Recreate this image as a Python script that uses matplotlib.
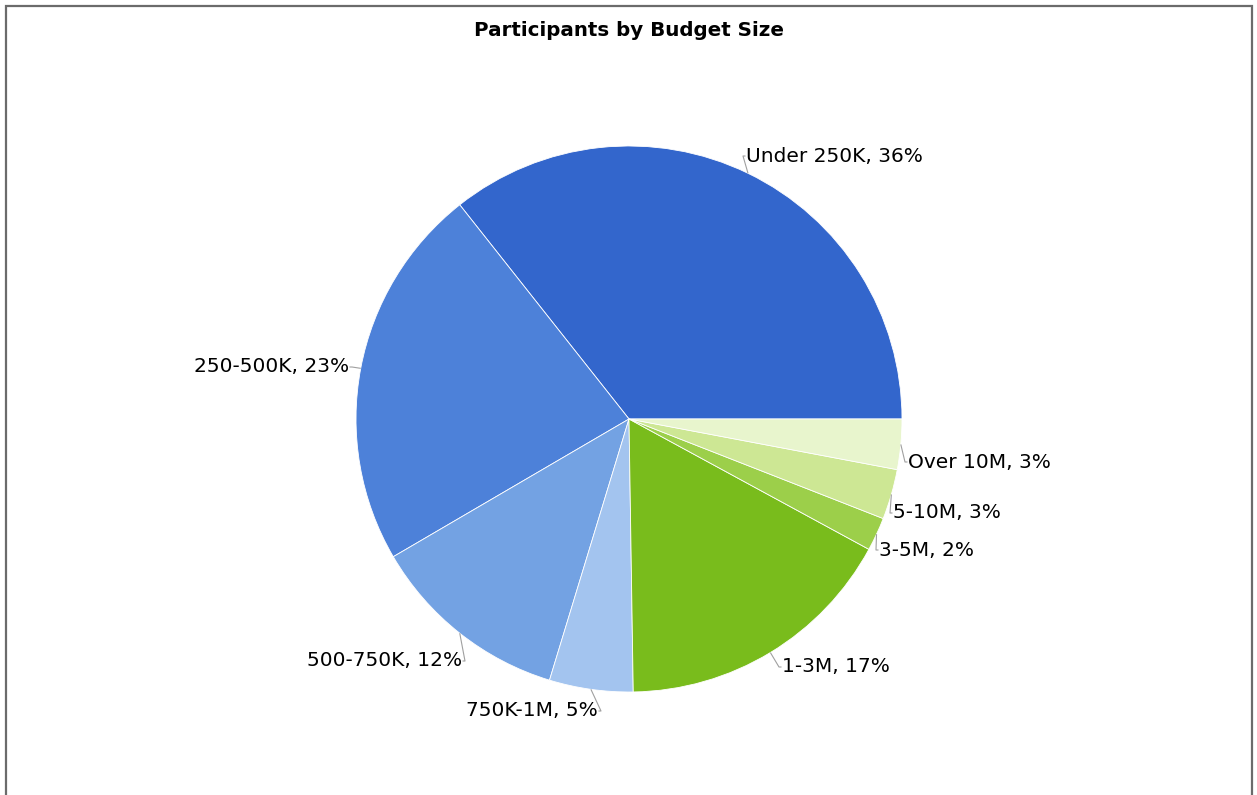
"""
Participants by budget size - pie chart with outside labels and leader lines.
"""

import matplotlib
matplotlib.use("Agg")
import matplotlib.pyplot as plt
from matplotlib.lines import Line2D
import numpy as np

W, H = 1257, 795

CATEGORIES = ["Under 250K", "250-500K", "500-750K", "750K-1M",
              "1-3M", "3-5M", "5-10M", "Over 10M"]
PERCENTS = [36, 23, 12, 5, 17, 2, 3, 3]

COLORS = ["#3366cc", "#4d81d9", "#73a2e3", "#a3c4ef",
          "#79bc1c", "#9ccf4a", "#cde794", "#e8f5cd"]

# label anchor (pixel coords, y down) and horizontal alignment
LABEL_POS = [(746, 156, "left"), (349, 367, "right"), (462, 661, "right"),
             (598, 711, "right"), (782, 667, "left"), (879, 550, "left"),
             (893, 513, "left"), (908, 462, "left")]

CENTER = (629, H - 419)
RADIUS = 273

plt.rcParams["font.family"] = "DejaVu Sans"

fig = plt.figure(figsize=(W / 100, H / 100), dpi=100)
ax = fig.add_axes([0, 0, 1, 1])

wedges, _ = ax.pie(PERCENTS, colors=COLORS, startangle=0, counterclock=True,
                   center=CENTER, radius=RADIUS,
                   wedgeprops=dict(edgecolor="white", linewidth=0.6))

# pie() sets its own limits, so map data units back to pixels afterwards
ax.set_xlim(0, W)
ax.set_ylim(0, H)
ax.set_aspect("auto")
ax.axis("off")

for w, name, pct, (lx, ly, ha) in zip(wedges, CATEGORIES, PERCENTS, LABEL_POS):
    mid = np.deg2rad((w.theta1 + w.theta2) / 2)
    ex = CENTER[0] + RADIUS * np.cos(mid)
    ey = CENTER[1] + RADIUS * np.sin(mid)
    ty = H - ly
    side = -1 if ha == "left" else 1
    cx = lx + side * 3
    ax.plot([ex, cx, lx + side * 0.5], [ey, ty, ty], color="#a0a0a0",
            linewidth=0.8, solid_capstyle="butt")
    ax.text(lx, ty, f"{name}, {pct}%", ha=ha, va="center", fontsize=14.5,
            color="black")

fig.text(629 / W, 1 - 30 / H, "Participants by Budget Size", ha="center",
         va="center", fontsize=14.3, fontweight="bold")

# outer frame (open at the bottom)
fx0, fx1, fy1 = 6 / W, 1251.5 / W, 1 - 6 / H
fig.add_artist(Line2D([fx0, fx0, fx1, fx1], [0, fy1, fy1, 0],
                      transform=fig.transFigure, color="#6b6b6b",
                      linewidth=1.6, solid_joinstyle="miter"))

fig.savefig("out.png", dpi=100)
